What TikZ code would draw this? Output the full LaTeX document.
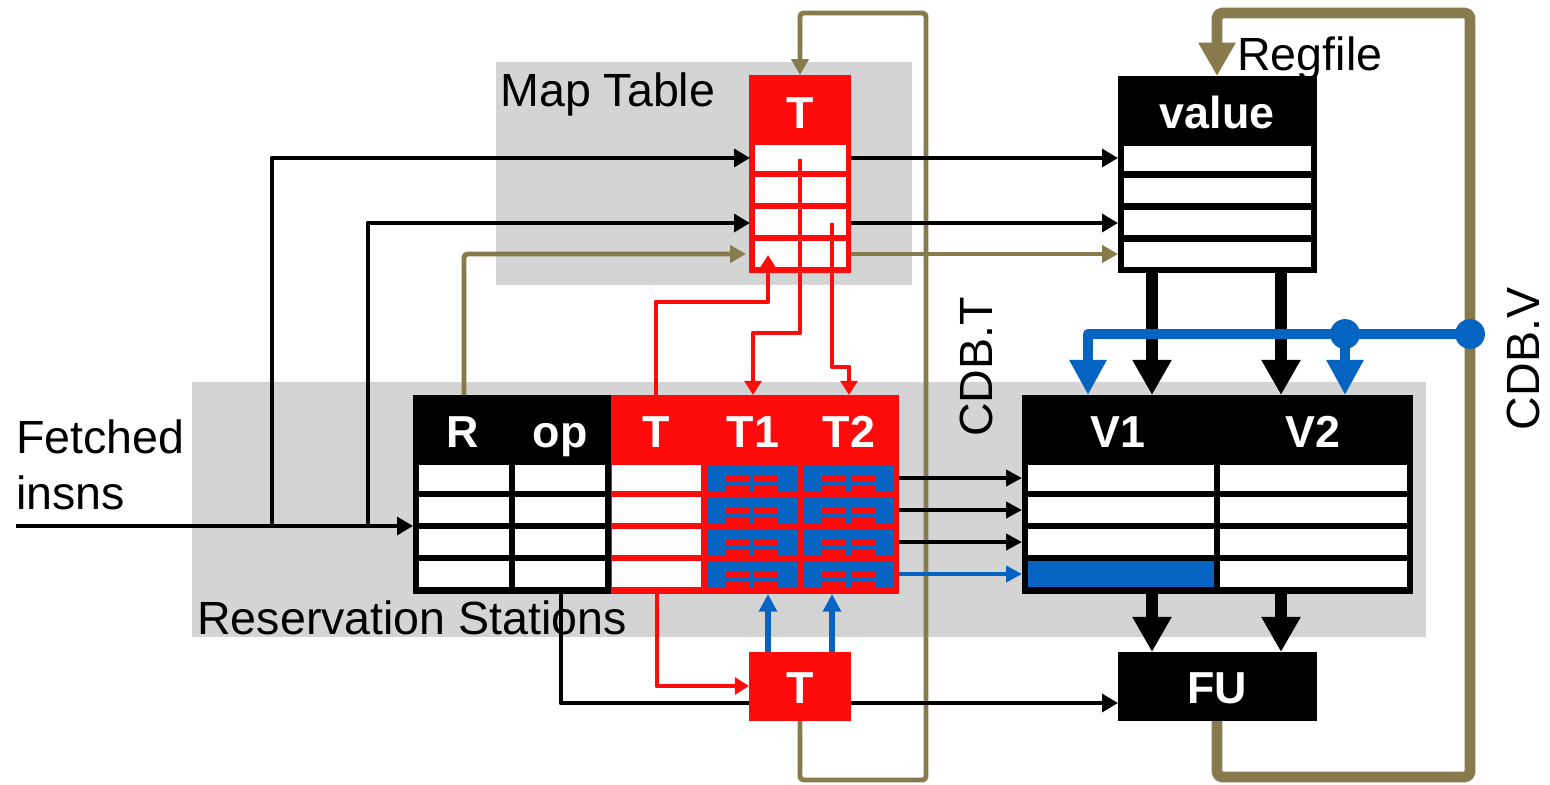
\documentclass[tikz,border=0pt]{standalone}
\usepackage{fontspec}
\setmainfont{Liberation Sans}
\usetikzlibrary{arrows.meta}
\definecolor{redC}{HTML}{FF0B0B}
\definecolor{blueC}{HTML}{0564C1}
\definecolor{oliveC}{HTML}{877A4C}
\definecolor{grayC}{HTML}{D4D4D4}
\tikzset{
  lbl/.style={inner sep=0pt, font=\fontsize{26.5}{30}\selectfont},
  hdr/.style={inner sep=0pt, text=white, font=\bfseries\fontsize{25.5}{30}\selectfont},
  blk/.style={draw=black, line width=2.8pt, -{Triangle[length=9pt,width=10pt]}},
  blkthin/.style={draw=black, line width=2.3pt, -{Triangle[length=9pt,width=9pt]}},
  bluthin/.style={draw=blueC, line width=2.3pt, -{Triangle[length=9pt,width=9pt]}},
  redarr/.style={draw=redC, line width=2.8pt, -{Triangle[length=8pt,width=9.5pt]}},
  bluup/.style={draw=blueC, line width=3.4pt, -{Triangle[length=10pt,width=10pt]}},
  olvthin/.style={draw=oliveC, line width=2.8pt, rounded corners=2pt, -{Triangle[length=9pt,width=9.6pt]}},
  olvthick/.style={draw=oliveC, line width=6.2pt, rounded corners=3pt, -{Triangle[length=19pt,width=20pt]}},
  blkthick/.style={draw=black, line width=6.6pt, -{Triangle[length=20pt,width=21pt]}},
  blubus/.style={draw=blueC, line width=5.7pt, -{Triangle[length=20pt,width=20pt]}},
  bcell/.pic={
    \fill[blueC] (0,0) rectangle (90,26);
    \fill[redC] (18,11) rectangle (42,16);
    \fill[redC] (47,11) rectangle (71,16);
    \fill[redC] (18,21) rectangle (42,26);
    \fill[redC] (47,21) rectangle (71,26);
  }
}
\begin{document}
\begin{tikzpicture}[x=0.02cm,y=-0.02cm,line join=round]
\useasboundingbox (0,0) rectangle (1550,784);

% gray backgrounds
\fill[grayC] (496,62) rectangle (912,285);
\fill[grayC] (192,382) rectangle (1426,637);

% labels
\node[lbl, anchor=base west] (lmap) at (500,107) {Map Table};
\node[lbl, anchor=base west] (lreg) at (1237,71) {Regfile};
\node[lbl, anchor=base west] (lfet1) at (16,453) {Fetched};
\node[lbl, anchor=base west] (lfet2) at (16,509) {insns};
\node[lbl, anchor=base west] (lrs) at (197,634) {Reservation Stations};
\node[lbl, rotate=90, anchor=base] (lcdbt) at (992,367) {CDB.T};
\node[lbl, rotate=90, anchor=base] (lcdbv) at (1539,359) {CDB.V};

% connection coordinates
\coordinate (in0) at (16,526);
\coordinate (rsin) at (413,526);
\coordinate (br1) at (272,526);
\coordinate (br2) at (368,526);
\coordinate (mtr1) at (750,158);
\coordinate (mtr3) at (750,223);
\coordinate (mtr4) at (746,254);
\coordinate (rsR) at (464,395);
\coordinate (mto1) at (851,158);
\coordinate (mto3) at (851,223);
\coordinate (mto4) at (851,254);
\coordinate (rfi1) at (1118,158);
\coordinate (rfi3) at (1118,223);
\coordinate (rfi4) at (1118,254);
\coordinate (rsT) at (656,395);
\coordinate (rsTb) at (657,594);
\coordinate (mtup) at (768,255);
\coordinate (mts1) at (800,159);
\coordinate (mts3) at (832,223);
\coordinate (rsT1) at (753,395);
\coordinate (rsT2) at (849,395);
\coordinate (rsT1b) at (768,594);
\coordinate (rsT2b) at (832,594);
\coordinate (tbL) at (749,686);
\coordinate (tbT1) at (768,652);
\coordinate (tbT2) at (832,652);
\coordinate (tbB) at (800,721);
\coordinate (mtTop) at (800,75);
\coordinate (rsop) at (561,594);
\coordinate (fuL) at (1118,703);
\coordinate (fuB) at (1217,721);
\coordinate (rfTop) at (1217,76);
\coordinate (rfb1) at (1152,273);
\coordinate (rfb2) at (1281,273);
\coordinate (vt1) at (1152,395);
\coordinate (vt2) at (1281,395);
\coordinate (vb1) at (1152,594);
\coordinate (vb2) at (1281,594);
\coordinate (fut1) at (1152,652);
\coordinate (fut2) at (1281,652);
\coordinate (vbus1) at (1088,395);
\coordinate (vbus2) at (1345,395);

% CDB.T loop (thin olive)
\draw[olvthin] (tbB) -- (800,780) -- (926,780) -- (926,13) -- (800,13) -- (mtTop);

% Map table
\fill[redC] (749,75) rectangle (851,273);
\foreach \i in {0,...,3} {
  \fill[white] (755,145+32*\i) rectangle (846,171+32*\i);
}
\node[hdr, anchor=base] (mtT) at (800,128) {T};

% Regfile
\fill[black] (1118,76) rectangle (1317,273);
\foreach \i in {0,...,3} {
  \fill[white] (1124,146+32*\i) rectangle (1311,171+32*\i);
}
\node[hdr, anchor=base] (rfv) at (1217,128) {value};

% RS black part
\fill[black] (413,395) rectangle (611,594);
\foreach \i in {0,...,3} {
  \fill[white] (419,465+32*\i) rectangle (509,491+32*\i);
  \fill[white] (515,465+32*\i) rectangle (605,491+32*\i);
}
% RS red part
\fill[redC] (611,395) rectangle (899,594);
\foreach \i in {0,...,3} {
  \fill[white] (612,465+32*\i) rectangle (701,491+32*\i);
  \pic at (707,465+32*\i) {bcell};
  \pic at (804,465+32*\i) {bcell};
}
\node[hdr, anchor=base] (hR) at (463,447) {R};
\node[hdr, anchor=base] (hop) at (560,447) {op};
\node[hdr, anchor=base] (hT) at (656,447) {T};
\node[hdr, anchor=base] (hT1) at (753,447) {T1};
\node[hdr, anchor=base] (hT2) at (849,447) {T2};

% V table
\fill[black] (1022,395) rectangle (1413,594);
\foreach \i in {0,...,3} {
  \fill[white] (1028,465+32*\i) rectangle (1214,491+32*\i);
  \fill[white] (1220,465+32*\i) rectangle (1407,491+32*\i);
}
\fill[blueC] (1028,561) rectangle (1214,587);
\node[hdr, anchor=base] (hV1) at (1118,447) {V1};
\node[hdr, anchor=base] (hV2) at (1313,447) {V2};

% input and dispatch connectors
\draw[blk] (in0) -- (rsin);
\draw[blk] (br1) |- (mtr1);
\draw[blk] (br2) |- (mtr3);
\draw[olvthin] (rsR) |- (mtr4);
\draw[blk] (mto1) -- (rfi1);
\draw[blk] (mto3) -- (rfi3);
\draw[olvthin] (mto4) -- (rfi4);

% red tag paths
\draw[redarr] (rsT) -- (656,302) -- (768,302) -- (mtup);
\draw[redarr] (mts1) -- (800,333) -- (753,333) -- (rsT1);
\draw[redarr] (mts3) -- (832,367) -- (849,367) -- (rsT2);

% RS -> V rows
\coordinate (rso1) at (899,478); \coordinate (vi1) at (1022,478);
\coordinate (rso2) at (899,510); \coordinate (vi2) at (1022,510);
\coordinate (rso3) at (899,542); \coordinate (vi3) at (1022,542);
\coordinate (rso4) at (899,574); \coordinate (vi4) at (1022,574);
\draw[blkthin] (rso1) -- (vi1);
\draw[blkthin] (rso2) -- (vi2);
\draw[blkthin] (rso3) -- (vi3);
\draw[bluthin] (rso4) -- (vi4);

% op to FU
\draw[blk] (rsop) |- (fuL);
\draw[redarr] (rsTb) |- (tbL);

% bottom T box
\fill[redC] (749,652) rectangle (851,721);
\node[hdr, anchor=base] (tbText) at (800,703) {T};
\draw[bluup] (tbT1) -- (rsT1b);
\draw[bluup] (tbT2) -- (rsT2b);

% FU
\fill[black] (1118,652) rectangle (1317,721);
\node[hdr, anchor=base] (fuText) at (1217,703) {FU};

% regfile -> V, V -> FU
\draw[blkthick] (rfb1) -- (vt1);
\draw[blkthick] (rfb2) -- (vt2);
\draw[blkthick] (vb1) -- (fut1);
\draw[blkthick] (vb2) -- (fut2);

% CDB.V loop (thick olive)
\draw[olvthick] (fuB) -- (1217,777) -- (1470,777) -- (1470,13) -- (1217,13) -- (rfTop);

% blue bus
\coordinate (dotR) at (1470,334);
\coordinate (dotM) at (1345,334);
\draw[blubus] (dotR) -- (1088,334) -- (vbus1);
\draw[blubus] (dotM) -- (vbus2);
\fill[blueC] (dotR) circle[radius=8.5pt];
\fill[blueC] (dotM) circle[radius=8.5pt];
\end{tikzpicture}
\end{document}
